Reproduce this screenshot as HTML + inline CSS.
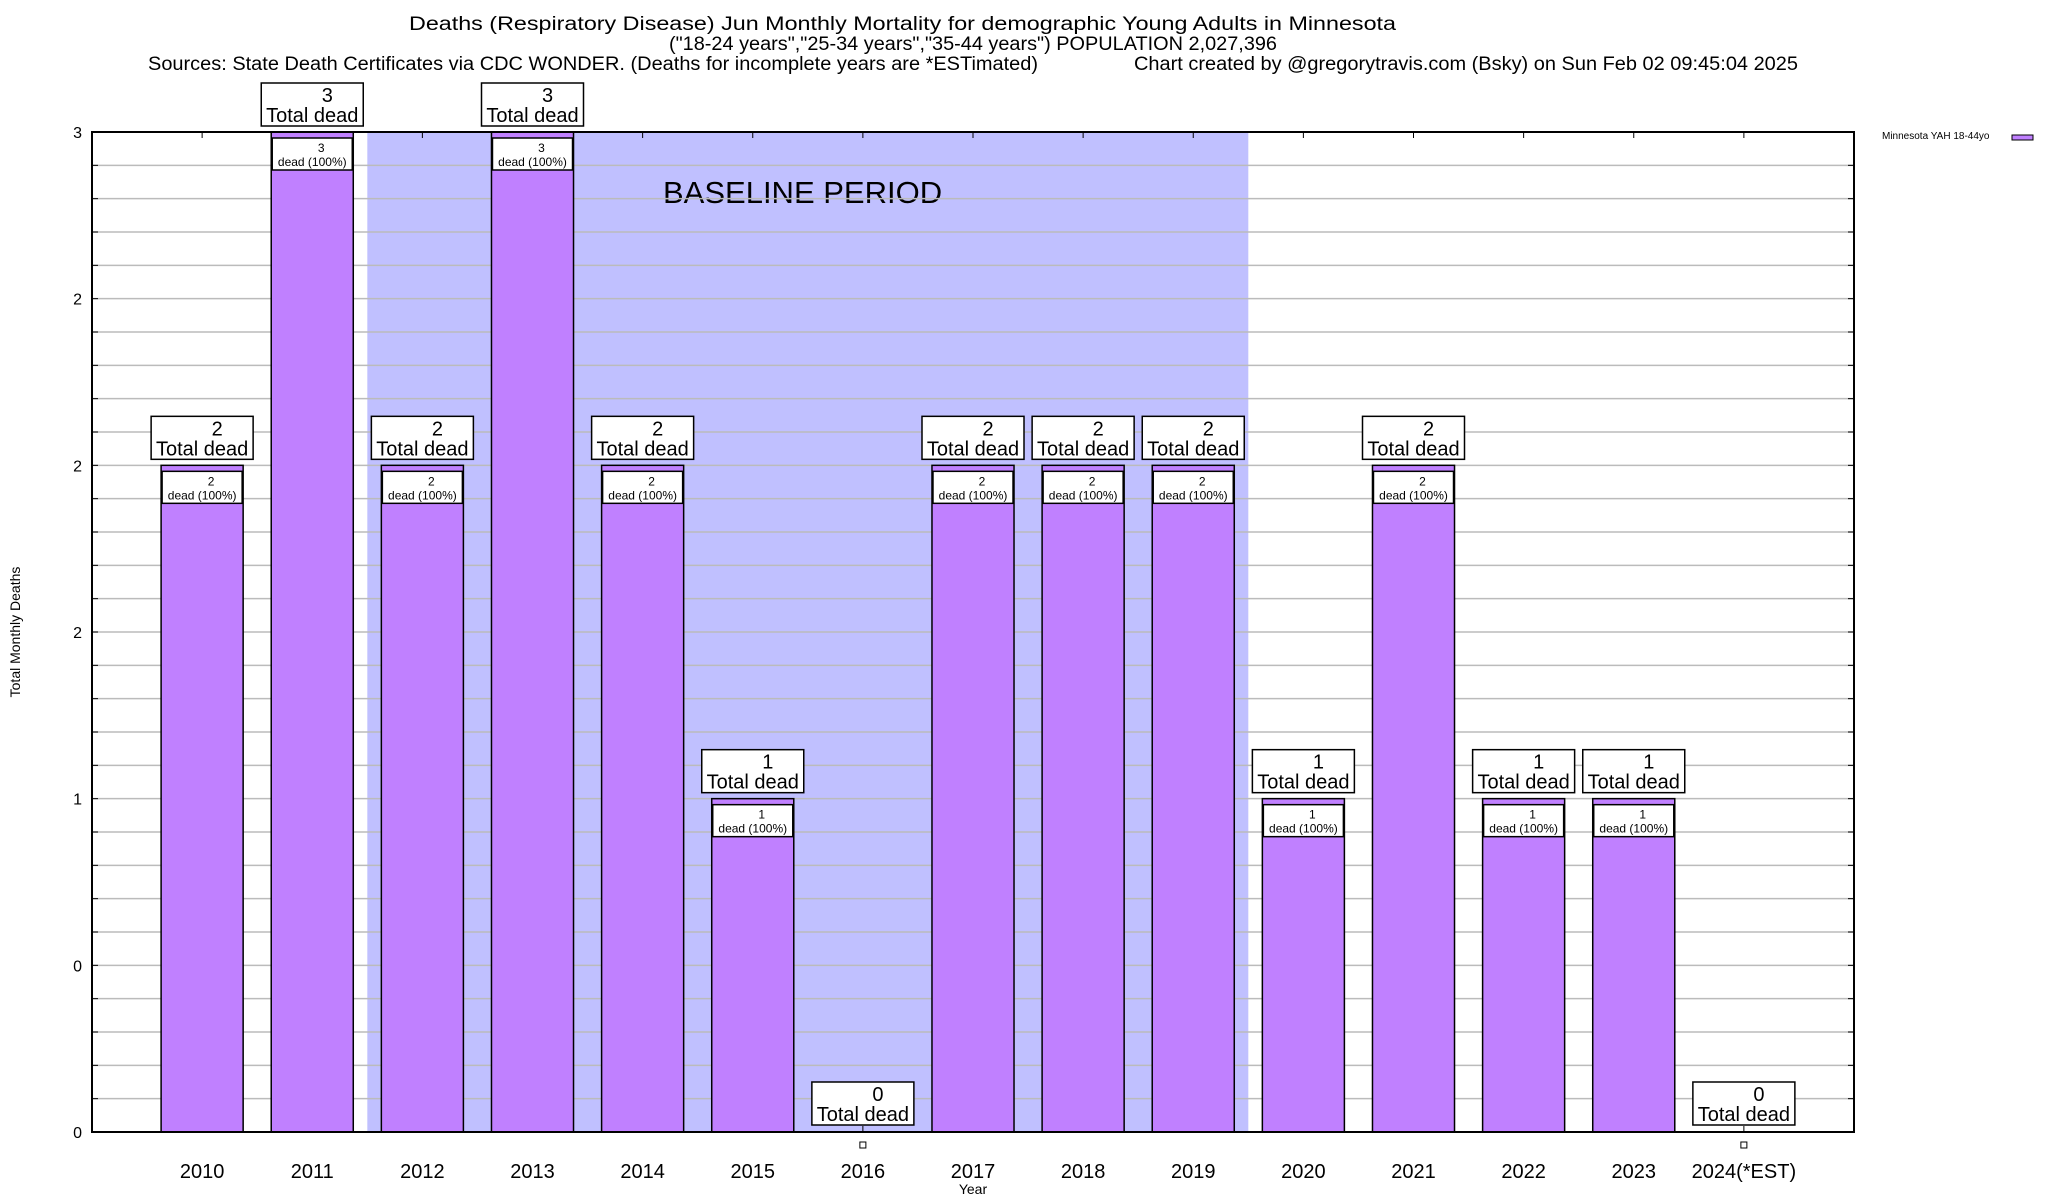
<!DOCTYPE html>
<html><head><meta charset="utf-8"><style>
html,body{margin:0;padding:0;background:#fff}
svg{display:block;font-family:"Liberation Sans",sans-serif}
</style></head><body>
<svg id="chart" width="2048" height="1200" viewBox="0 0 2048 1200" xmlns="http://www.w3.org/2000/svg">
<g>
<text x="409" y="30" font-size="19" textLength="987" lengthAdjust="spacingAndGlyphs">Deaths (Respiratory Disease) Jun Monthly Mortality for demographic Young Adults in Minnesota</text>
<text x="669" y="50" font-size="19" textLength="608" lengthAdjust="spacingAndGlyphs">("18-24 years","25-34 years","35-44 years") POPULATION 2,027,396</text>
<text x="148" y="70" font-size="19" textLength="890" lengthAdjust="spacingAndGlyphs">Sources: State Death Certificates via CDC WONDER. (Deaths for incomplete years are *ESTimated)</text>
<text x="1134" y="70" font-size="19" textLength="664" lengthAdjust="spacingAndGlyphs">Chart created by @gregorytravis.com (Bsky) on Sun Feb 02 09:45:04 2025</text>
</g>
<g id="plot"></g>
<text x="20" y="632" font-size="14" text-anchor="middle" transform="rotate(-90 20 632)">Total Monthly Deaths</text>
<text x="973" y="1194" font-size="14" text-anchor="middle">Year</text>
<g>
<text x="1882" y="139" font-size="10">Minnesota YAH 18-44yo</text>
<rect x="2012" y="135" width="21" height="5" fill="#c080ff" stroke="#000" stroke-width="1"/>
</g>
</svg>
<script>
const categories=["2010","2011","2012","2013","2014","2015","2016","2017","2018","2019","2020","2021","2022","2023","2024(*EST)"];
const deaths=[2,3,2,3,2,1,0,2,2,2,1,2,1,1,0];
const yTickValues=[0,0.5,1,1.5,2,2.5,3];
const yTickLabels=["0","0","1","2","2","2","3"];
const baselineRange=[1.5,9.5];
const NS="http://www.w3.org/2000/svg";
const L=92,R=1854,T=132,B=1132,YMAX=3;
const step=(R-L)/(categories.length+1);
const xs=i=>L+step*(i+1);
const ys=v=>B-(v/YMAX)*(B-T);
const g=document.getElementById('plot');
function mk(tag,attrs,parent){const e=document.createElementNS(NS,tag);for(const k in attrs)e.setAttribute(k,attrs[k]);(parent||g).appendChild(e);return e;}
function txt(x,y,s,size,anchor,parent){const t=mk('text',{x:x,y:y,'font-size':size,'text-anchor':anchor||'middle'},parent);t.textContent=s;return t;}
// baseline shading
const bl=mk('rect',{x:xs(baselineRange[0]),y:T,width:xs(baselineRange[1])-xs(baselineRange[0]),height:B-T,fill:'#c0c0ff'});


const blt=txt(663,203,'BASELINE PERIOD',31,'start');


// grid
for(let k=1;k<30;k++){const v=k*0.1;mk('line',{x1:L,x2:R,y1:ys(v),y2:ys(v),stroke:'#bbb','stroke-width':1.5});
mk('line',{x1:L,x2:L+6,y1:ys(v),y2:ys(v),stroke:'#000'});mk('line',{x1:R-6,x2:R,y1:ys(v),y2:ys(v),stroke:'#000'});}
yTickValues.forEach((v,i)=>{const t=txt(82,ys(v)+6,yTickLabels[i],16,'end');

});
// bars
const bw=step*0.745;
categories.forEach((c,i)=>{
 const cx=xs(i),v=deaths[i];
 mk('line',{x1:cx,x2:cx,y1:T,y2:T+6,stroke:'#000'});
 const lab=txt(cx,1178,c,20);
 
 
 if(v>0){
  const b=mk('rect',{x:cx-bw/2,y:ys(v),width:bw,height:B-ys(v),fill:'#c080ff',stroke:'#000','stroke-width':1.5});
  
  
  const ib=mk('rect',{x:cx-bw/2+1,y:ys(v)+6,width:bw-2,height:32,fill:'#fff',stroke:'#000','stroke-width':1.5});
  
  
  txt(cx+9,ys(v)+20,String(v),12);
  txt(cx,ys(v)+34,'dead (100%)',12);
 } else {
  mk('line',{x1:cx,x2:cx,y1:B-6,y2:B,stroke:'#000'});
  const m=mk('rect',{x:cx-3,y:B+10,width:6,height:6,fill:'#fff',stroke:'#000','stroke-width':1});
  
  
 }
 const top=v>0?ys(v)-49:B-50;
 const tb=mk('rect',{x:cx-51,y:top,width:102,height:43,fill:'#fff',stroke:'#000','stroke-width':1.5});
 
 
 txt(cx+15,top+19,String(v),20);
 txt(cx,top+39,'Total dead',20);
});
mk('rect',{x:L,y:T,width:R-L,height:B-T,fill:'none',stroke:'#000','stroke-width':2});
</script>
</body></html>
